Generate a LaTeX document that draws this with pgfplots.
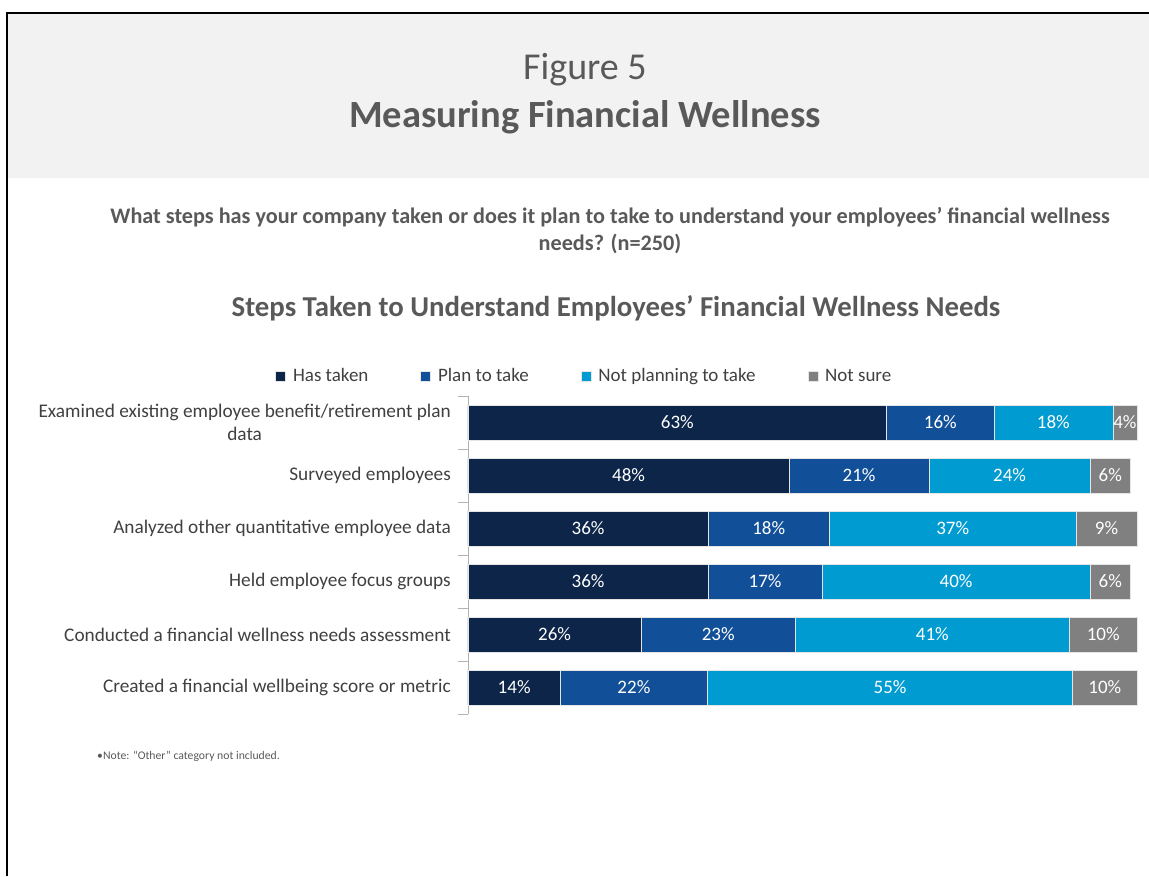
\documentclass[border=0pt]{standalone}
\usepackage{pgfplots}
\usepackage{pgfplotstable}
\pgfplotsset{compat=1.18}
\usepackage{fontspec}
\setmainfont{Carlito}
\definecolor{cA}{RGB}{12,37,73}
\definecolor{cB}{RGB}{17,80,152}
\definecolor{cC}{RGB}{0,155,208}
\definecolor{cD}{RGB}{128,128,128}
\definecolor{band}{RGB}{242,242,242}
\definecolor{ttl}{RGB}{89,89,89}
\definecolor{lbl}{RGB}{64,64,64}
\pgfplotstableread{
y a b c d
1 62.6 16.0 17.8 3.6
2 48.0 20.9 24.1 6.0
3 35.9 18.1 36.9 9.1
4 35.9 17.0 40.1 6.0
5 25.9 23.0 41.0 10.1
6 13.8 22.0 54.6 9.6
}\data
\begin{document}
\begin{tikzpicture}[x=1pt,y=1pt]
\path[use as bounding box] (0,0) rectangle (1149,-876);
\fill[band] (7,-13) rectangle (1149,-178);
\draw[black,line width=2pt] (6.5,-876) -- (6.5,-12.5) -- (1149,-12.5);
\node[text=ttl,font=\fontsize{38}{40}\selectfont] at (585,-70) {Figure 5};
\node[text=ttl,font=\fontsize{38.5}{40}\selectfont\bfseries] at (585,-117) {Measuring Financial Wellness};
\node[text=ttl,font=\fontsize{22.2}{27}\selectfont\bfseries,align=center] at (610,-231) {What steps has your company taken or does it plan to take to understand your employees’ financial wellness\\needs? (n=250)};
\node[text=ttl,font=\fontsize{28.8}{30}\selectfont\bfseries] at (616,-308) {Steps Taken to Understand Employees’ Financial Wellness Needs};
\node[text=ttl,font=\fontsize{11.7}{13}\selectfont,anchor=west,inner sep=0pt] at (97,-756) {•Note: “Other” category not included.};

\begin{axis}[
  at={(468pt,-396pt)}, anchor=north west,
  scale only axis, width=669pt, height=318pt,
  xmin=0, xmax=100, ymin=0.5, ymax=6.5, y dir=reverse,
  xbar stacked, bar width=35pt,
  hide x axis, axis y line*=left,
  ytick={1,2,3,4,5,6},
  yticklabels={{Examined existing employee benefit/retirement plan\\data},
    {Surveyed employees},{Analyzed other quantitative employee data},
    {Held employee focus groups},{Conducted a financial wellness needs assessment},
    {Created a financial wellbeing score or metric}},
  minor ytick={0.5,1.5,2.5,3.5,4.5,5.5,6.5},
  tick align=outside, major tick length=0pt, minor tick length=10pt,
  every tick/.style={draw=gray!60, line width=0.8pt},
  y axis line style={draw=gray!60, line width=0.8pt},
  yticklabel style={font=\fontsize{19.3}{23}\selectfont, text=lbl, align=center, inner sep=0pt, xshift=-17pt},
  clip=false,
  legend columns=4,
  legend style={at={(0.174,1.063)}, anchor=center, draw=none, fill=none,
    font=\fontsize{19}{23}\selectfont, text=lbl,
    /tikz/every odd column/.append style={column sep=5pt},
    /tikz/every even column/.append style={column sep=50pt}},
  legend cell align=left,
  legend image code/.code={\fill[#1] (0pt,-5pt) rectangle (10pt,5pt);},
]
\addplot[fill=cA, draw=white!80!gray, line width=0.6pt] table[x=a,y=y]{\data};
\addplot[fill=cB, draw=white!80!gray, line width=0.6pt] table[x=b,y=y]{\data};
\addplot[fill=cC, draw=white!80!gray, line width=0.6pt] table[x=c,y=y]{\data};
\addplot[fill=cD, draw=white!80!gray, line width=0.6pt] table[x=d,y=y]{\data};
\legend{Has taken,Plan to take,Not planning to take,Not sure}
\end{axis}

\begin{axis}[
  at={(468pt,-396pt)}, anchor=north west,
  scale only axis, width=669pt, height=318pt,
  xmin=0, xmax=100, ymin=0.5, ymax=6.5, y dir=reverse,
  hide axis, clip=false,
  nodes near coords={\pgfmathprintnumber[fixed,precision=0,assume math mode=true]{\pgfplotspointmeta}\%},
  nodes near coords align={center},
  every node near coord/.append style={font=\fontsize{19}{23}\selectfont, text=white, inner sep=0pt},
  point meta=explicit,
]
\addplot[draw=none, mark=none] table[x expr=\thisrow{a}/2, y=y, meta=a]{\data};
\addplot[draw=none, mark=none] table[x expr=\thisrow{a}+\thisrow{b}/2, y=y, meta=b]{\data};
\addplot[draw=none, mark=none] table[x expr=\thisrow{a}+\thisrow{b}+\thisrow{c}/2, y=y, meta=c]{\data};
\addplot[draw=none, mark=none] table[x expr=\thisrow{a}+\thisrow{b}+\thisrow{c}+\thisrow{d}/2, y=y, meta=d]{\data};
\end{axis}
\end{tikzpicture}
\end{document}
